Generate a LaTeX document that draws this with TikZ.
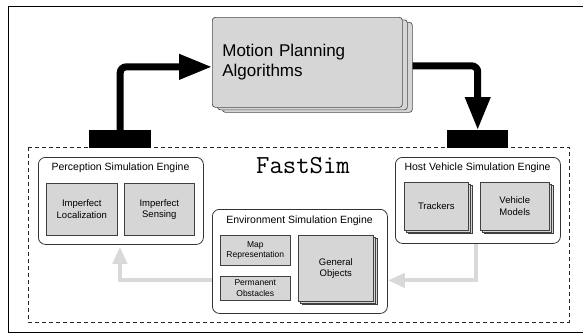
\documentclass[tikz,border=0pt]{standalone}
\usepackage{fontspec}
\setmainfont{Liberation Sans}
\usetikzlibrary{arrows.meta,shadows,backgrounds}
\begin{document}
\begin{tikzpicture}[x=1pt,y=-1pt,
  engine/.style={draw=black!80,line width=0.8pt,rounded corners=7pt,fill=white,anchor=north west,inner sep=0pt},
  etitle/.style={font=\fontsize{10.5}{12}\selectfont,inner sep=0pt},
  comp/.style={draw=black!75,line width=0.6pt,fill=black!16,anchor=north west,inner sep=1pt,align=center,font=\fontsize{9.5}{11.5}\selectfont},
  small/.style={font=\fontsize{8.5}{10.5}\selectfont},
  stackA/.style={double copy shadow={shadow xshift=2pt,shadow yshift=-1.5pt}},
  mpbox/.style={draw=black!70,line width=0.7pt,fill=black!16,rounded corners=3pt,anchor=north west,
    double copy shadow={shadow xshift=5pt,shadow yshift=-2.5pt},
    align=left,inner xsep=10pt,font=\fontsize{17}{20}\selectfont},
  blk/.style={fill=black,draw=none,anchor=north west,inner sep=0pt},
  blkarrow/.style={line width=7pt,rounded corners=6pt,-{Triangle[length=33pt,width=24pt]}},
  grayarrow/.style={draw=black!15,line width=4pt,-{Triangle[length=17pt,width=14pt]}}
]
\useasboundingbox (0,0) rectangle (583,335);
\draw[line width=1pt] (8,6) rectangle (600,332);
\draw[black!85,line width=0.8pt,dash pattern=on 4pt off 3pt] (28,147) rectangle (569,322);

\node[mpbox,minimum width=190,minimum height=90,text width=170] (mp) at (212,17) {Motion Planning\\Algorithms};
\node[blk,minimum width=62,minimum height=18] (lb) at (89,130) {};
\node[blk,minimum width=61,minimum height=18] (rb) at (447,130) {};

\node[font=\fontsize{26}{26}\ttfamily,inner sep=0pt,anchor=base] (fs) at (303,173) {FastSim};

% Perception
\node[engine,minimum width=165,minimum height=87] (perc) at (38,157) {};
\node[etitle] (perct) at (120.5,168) {Perception Simulation Engine};
\node[comp,minimum width=71,minimum height=52] (loc) at (46,183) {Imperfect\\Localization};
\node[comp,minimum width=70,minimum height=52] (sens) at (124,183) {Imperfect\\Sensing};

% Environment
\node[engine,minimum width=175,minimum height=104] (env) at (212,209) {};
\node[etitle] (envt) at (299.5,221) {Environment Simulation Engine};
\node[comp,small,minimum width=70,minimum height=30] (map) at (220,235) {Map\\Representation};
\node[comp,small,minimum width=70,minimum height=24] (perm) at (220,276) {Permanent\\Obstacles};
\node[comp,stackA,minimum width=75,minimum height=66] (gen) at (298,235) {General\\Objects};

% Host
\node[engine,minimum width=165,minimum height=86] (host) at (395,157) {};
\node[etitle] (hostt) at (477.5,168) {Host Vehicle Simulation Engine};
\node[comp,stackA,minimum width=64,minimum height=48] (trk) at (404,182) {Trackers};
\node[comp,stackA,minimum width=69,minimum height=48] (veh) at (480,182) {Vehicle\\Models};

\begin{pgfonlayer}{background}
\draw[blkarrow] (lb.north) |- ([yshift=-4.5pt]mp.west);
\draw[blkarrow] ([yshift=-3.5pt]mp.east) -| (rb.north);
\draw[grayarrow] ([xshift=-1.5pt]host.south) |- ([yshift=-19pt]env.east);
\draw[grayarrow,shorten >=2pt] ([yshift=-18.5pt]env.west) -| ([xshift=-1pt]perc.south);
\end{pgfonlayer}
\end{tikzpicture}
\end{document}
